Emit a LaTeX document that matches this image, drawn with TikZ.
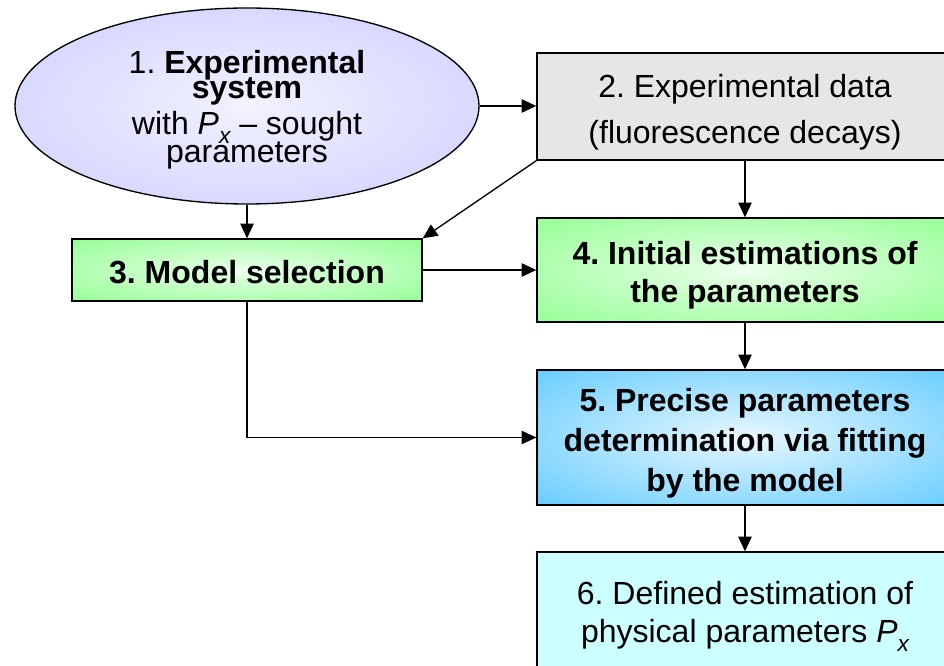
\documentclass[tikz,border=0pt]{standalone}
\usepackage{fontspec}
\setmainfont{Liberation Sans}
\frenchspacing
\usetikzlibrary{shapes.geometric,arrows.meta}
\definecolor{lav}{RGB}{204,204,255}
\definecolor{grayc}{RGB}{230,230,230}
\definecolor{greenc}{RGB}{153,255,153}
\definecolor{bluec}{RGB}{102,204,255}
\definecolor{cyanc}{RGB}{204,255,255}
\pgfdeclareradialshading{lavrad}{\pgfpoint{0bp}{0bp}}{color(0bp)=(white!75!lav); color(8bp)=(white!58!lav); color(38bp)=(lav); color(50bp)=(lav)}
\pgfdeclareradialshading{greenrad}{\pgfpoint{0bp}{0bp}}{color(0bp)=(white!85!greenc); color(6bp)=(white!65!greenc); color(34bp)=(greenc); color(50bp)=(greenc)}
\pgfdeclareradialshading{bluerad}{\pgfpoint{0bp}{0bp}}{color(0bp)=(white!90!bluec); color(6bp)=(white!70!bluec); color(36bp)=(bluec); color(50bp)=(bluec)}
\newcommand{\PxSym}{\textit{P}\raisebox{-0.28em}{\fontsize{17}{17}\selectfont\itshape x}}
\newcommand{\tightlines}{\lineskiplimit=-30pt\relax\lineskip=0pt\relax}
\tikzset{
  box/.style={draw=black, line width=1pt, rectangle, inner sep=0pt},
  txt/.style={inner sep=0pt, align=center, text=black},
  arr/.style={draw=black, line width=1pt, -{Triangle[length=11pt,width=10pt]}},
}
\begin{document}
\begin{tikzpicture}[x=0.75pt,y=-0.75pt]
\useasboundingbox (0,0) rectangle (944,666);
\clip (0,0) rectangle (944,666);
% shapes
\node[ellipse, draw=black, line width=1pt, shading=lavrad, inner sep=0pt,
      minimum width=348pt, minimum height=147pt] (e) at (247,106) {};
\node[box, fill=grayc, minimum width=312pt, minimum height=80.25pt] (b2) at (745,106.5) {};
\node[box, shading=greenrad, minimum width=262.5pt, minimum height=46.5pt] (b3) at (247,270) {};
\node[box, shading=greenrad, minimum width=312pt, minimum height=78pt] (b4) at (745,270) {};
\node[box, shading=bluerad, minimum width=312pt, minimum height=101.25pt] (b5) at (745,437.5) {};
\node[box, fill=cyanc, minimum width=312pt, minimum height=91.5pt] (b6) at (745,613) {};
% texts
\node[txt, font=\fontsize{24}{19}\selectfont\tightlines] (te) at ([yshift=-2.75pt]e.center)
  {1. \textbf{Experimental}\\ \textbf{system}\\[8pt] with \PxSym\ – sought\\[1.5pt] parameters};
\node[txt, font=\fontsize{24}{34.5}\selectfont] (t2) at ([yshift=-4pt]b2.center)
  {2. Experimental data\\ (fluorescence decays)};
\node[txt, font=\fontsize{24}{29}\selectfont\bfseries] (t3) at ([yshift=-1.5pt]b3.center)
  {3. Model selection};
\node[txt, font=\fontsize{24}{29}\selectfont\bfseries] (t4) at ([yshift=-4pt]b4.center)
  {4. Initial estimations of\\ the parameters};
\node[txt, font=\fontsize{24}{30}\selectfont\bfseries] (t5) at ([yshift=-4.5pt]b5.center)
  {5. Precise parameters\\ determination via fitting\\ by the model};
\node[txt, font=\fontsize{24}{28.5}\selectfont] (t6) at ([yshift=-2.5pt]b6.center)
  {6. Defined estimation of\\ physical parameters \PxSym};
% connectors
\draw[arr] (e.east) -- (e.east -| b2.west);
\draw[arr] (e.south) -- (b3.north);
\draw[arr] (b2.south west) -- (b3.north east);
\draw[arr] (b2.south) -- (b4.north);
\draw[arr] (b3.east) -- (b4.west);
\draw[arr] (b4.south) -- (b5.north);
\draw[arr] (b5.south) -- (b6.north);
\draw[arr] (b3.south) |- (b5.west);
\end{tikzpicture}
\end{document}
